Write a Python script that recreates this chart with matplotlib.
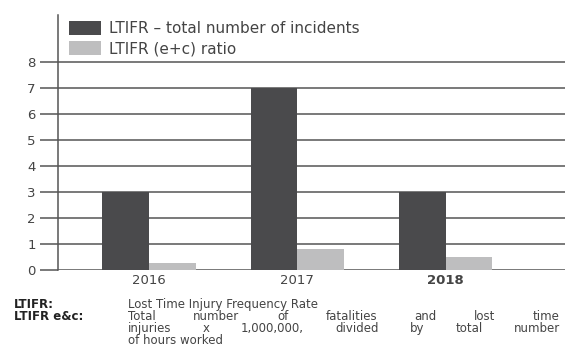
import matplotlib
matplotlib.use("Agg")
import matplotlib.pyplot as plt
import numpy as np

plt.rcParams['font.family'] = ['DejaVu Sans']

years = ["2016", "2017", "2018"]
incidents = [3, 7, 3]
ratio = [0.25, 0.8, 0.5]
series_names = ["LTIFR \u2013 total number of incidents", "LTIFR (e+c) ratio"]

dark = "#4a4a4c"
light = "#bebebf"
grid_c = "#555555"
txt_c = "#444444"

fig = plt.figure(figsize=(5.69, 3.45), dpi=100)
ax = fig.add_axes([58 / 569, 1 - 270 / 345, 507 / 569, 255 / 345])

x = np.arange(len(years))
w = 0.315
ax.bar(x - w / 2, incidents, w, color=dark, label=series_names[0], zorder=3)
ax.bar(x + w / 2, ratio, w, color=light, label=series_names[1], zorder=3)

ax.set_xlim(-0.614, 2.805)
ax.set_ylim(0, 9.8)
ax.set_yticks(range(0, 9))
ax.yaxis.grid(True, color=grid_c, linewidth=1.1, zorder=1)
ax.tick_params(axis="y", length=13, width=1.1, color=grid_c, pad=3,
               labelsize=9.5, labelcolor=txt_c)
ax.tick_params(axis="x", length=0, pad=3, labelsize=9.5, labelcolor=txt_c)
ax.set_xticks(x)
ax.set_xticklabels(years)
ax.get_xticklabels()[2].set_fontweight("bold")
for s in ["top", "right", "bottom"]:
    ax.spines[s].set_visible(False)
ax.spines["left"].set_color(grid_c)
ax.spines["left"].set_linewidth(1.1)

leg = ax.legend(loc="upper left", bbox_to_anchor=(69 / 569, 1 - 21 / 345),
                bbox_transform=fig.transFigure, frameon=False,
                fontsize=11, handlelength=2.1, handleheight=1.05,
                handletextpad=0.5, labelspacing=0.3, borderaxespad=0,
                borderpad=0, labelcolor=txt_c)

# footnote
fs = 8.5
def fy(py):
    return 1 - py / 345

fig.text(14 / 569, fy(308), "LTIFR:", fontsize=fs, fontweight="bold",
         color="#222222", va="baseline")
fig.text(14 / 569, fy(320), "LTIFR e&c:", fontsize=fs, fontweight="bold",
         color="#222222", va="baseline")
fig.text(128 / 569, fy(308), "Lost Time Injury Frequency Rate",
         fontsize=fs, color=txt_c, va="baseline")

def justify(words, py, x0=128, x1=560):
    r = fig.canvas.get_renderer()
    ts = [fig.text(0, fy(py), wd, fontsize=fs, color=txt_c, va="baseline")
          for wd in words]
    widths = [t.get_window_extent(r).width for t in ts]
    gap = (x1 - x0 - sum(widths)) / (len(words) - 1)
    pos = x0
    for t, wdt in zip(ts, widths):
        t.set_x(pos / 569)
        pos += wdt + gap

justify("Total number of fatalities and lost time".split(), 320)
justify("injuries x 1,000,000, divided by total number".split(), 332)
fig.text(128 / 569, fy(343.5), "of hours worked", fontsize=fs, color=txt_c,
         va="baseline")

fig.savefig("out.png", dpi=100)
